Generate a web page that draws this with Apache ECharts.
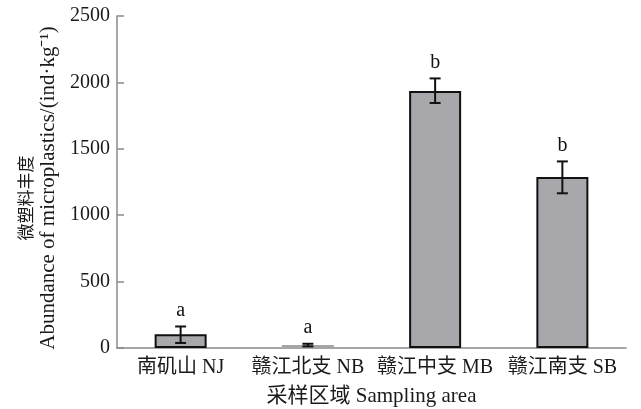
<!DOCTYPE html>
<html><head><meta charset="utf-8">
<script src="https://cdn.jsdelivr.net/npm/echarts@6/dist/echarts.min.js"></script>
<style>html,body{margin:0;padding:0;background:#fff}#c{width:641px;height:409px}</style>
</head><body><div id="c"></div>
<script>
const categories = ['南矶山 NJ', '赣江北支 NB', '赣江中支 MB', '赣江南支 SB'];
const means = [103, 22, 1935, 1288];
const errLow = [38, 12, 1845, 1165];
const errHigh = [162, 32, 2030, 1405];
const letters = ['a', 'a', 'b', 'b'];
const yTicks = [0, 500, 1000, 1500, 2000, 2500];
const yTitleCn = '微塑料丰度';
const yTitleEn = 'Abundance of microplastics/(ind·kg⁻¹)';

const serif = '"Liberation Serif","Times New Roman","Noto Sans CJK SC",serif';
const chart = echarts.init(document.getElementById('c'));
chart.setOption({
  animation: false,
  grid: {left: 117, right: 15, top: 16, bottom: 61, containLabel: false, outerBoundsMode: 'none'},
  xAxis: {
    type: 'category', data: categories,
    axisLine: {lineStyle: {color: '#8a8a8a', width: 1.5}},
    axisTick: {inside: true, length: 7, lineStyle: {color: '#8a8a8a', width: 1.5}},
    axisLabel: {color: '#1a1a1a', fontSize: 20, fontFamily: serif, margin: 10, interval: 0, hideOverlap: false},
    name: '采样区域 Sampling area', nameLocation: 'middle', nameGap: 38,
    nameTextStyle: {color: '#1a1a1a', fontSize: 21, fontFamily: serif}
  },
  yAxis: {
    type: 'value', min: yTicks[0], max: yTicks[yTicks.length - 1], interval: 500,
    splitLine: {show: false},
    axisLine: {show: true, lineStyle: {color: '#8a8a8a', width: 1.5}},
    axisTick: {show: true, inside: true, length: 7, lineStyle: {color: '#8a8a8a', width: 1.5}},
    axisLabel: {color: '#1a1a1a', fontSize: 20, fontFamily: serif, margin: 7, formatter: v => String(v)},
    name: '{cn|' + yTitleCn + '}\n{en|' + yTitleEn + '}',
    nameLocation: 'middle', nameRotate: 90, nameGap: 53,
    nameTextStyle: {
      color: '#1a1a1a', fontSize: 21, fontFamily: serif, padding: [0, 12, 0, 0],
      rich: {
        cn: {fontSize: 17, lineHeight: 21, fontFamily: serif, color: '#1a1a1a', padding: [0, 20, 0, 0]},
        en: {fontSize: 21, lineHeight: 21, fontFamily: serif, color: '#1a1a1a'}
      }
    }
  },
  series: [
    {
      type: 'bar',
      data: means.map((m, i) => i === 1 ? {value: m, itemStyle: {color: '#bcbcbe', borderColor: '#a5a5a5'}} : m),
      barWidth: 52,
      itemStyle: {color: '#a8a7ac', borderColor: '#111', borderWidth: 2}
    },
    {
      type: 'custom',
      data: means.map((m, i) => [i, errLow[i], errHigh[i]]),
      renderItem: function (params, api) {
        const i = api.value(0);
        const lo = api.coord([i, api.value(1)]);
        const hi = api.coord([i, api.value(2)]);
        const w = 5.5;
        const st = {stroke: '#111', lineWidth: 2};
        return {
          type: 'group',
          children: [
            {type: 'line', shape: {x1: hi[0], y1: hi[1], x2: lo[0], y2: lo[1]}, style: st},
            {type: 'line', shape: {x1: hi[0] - w, y1: hi[1], x2: hi[0] + w, y2: hi[1]}, style: st},
            {type: 'line', shape: {x1: lo[0] - w, y1: lo[1], x2: lo[0] + w, y2: lo[1]}, style: st},
            {type: 'text', x: hi[0], y: hi[1] - 6, style: {text: letters[i], fill: '#111', font: '20px ' + serif, align: 'center', verticalAlign: 'bottom'}}
          ]
        };
      },
      z: 5
    }
  ]
});
</script></body></html>
